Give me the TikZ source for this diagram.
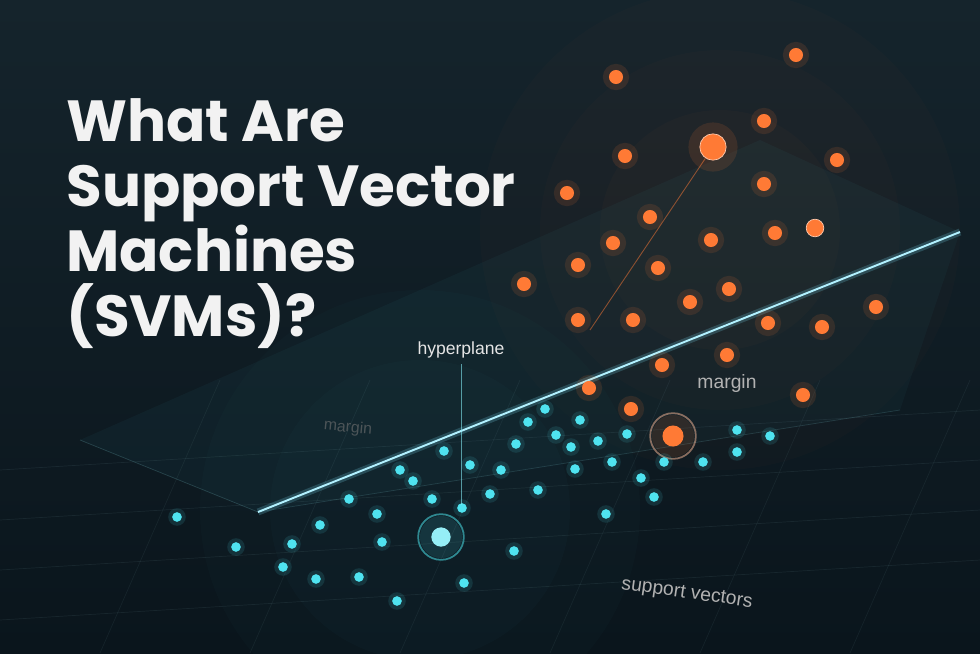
\documentclass[tikz,border=0pt]{standalone}
\usepackage{fontspec}
\setmainfont{Poppins}
\newfontfamily\lab{Liberation Sans}
\definecolor{bgA}{HTML}{0A151C}
\definecolor{bgB}{HTML}{15242C}
\definecolor{orng}{HTML}{FF7A35}
\definecolor{cyn}{HTML}{4FE3F0}
\definecolor{hyp}{HTML}{7FE8FF}
\tikzset{
 od/.style={circle,fill=orng,inner sep=0pt,minimum size=11pt},
 og/.style={circle,fill=orng,opacity=0.12,inner sep=0pt,minimum size=15pt},
 cd/.style={circle,fill=cyn,inner sep=0pt,minimum size=6pt},
 cg/.style={circle,fill=cyn,opacity=0.12,inner sep=0pt,minimum size=10pt},
 ring/.style={circle,draw=#1,line width=1pt,inner sep=0pt,minimum size=26pt},
 lbl/.style={text=#1,font=\lab\fontsize{11}{13}\selectfont}
}
\begin{document}
\begin{tikzpicture}[x=0.02cm,y=-0.02cm]
\useasboundingbox (0,0) rectangle (980,653);
\shade[top color=bgB,bottom color=bgA] (0,0) rectangle (980,653);
\foreach \r/\o in {240/0.02,180/0.02,120/0.025}{\fill[orng,opacity=\o] (720,230) circle (\r);}
\foreach \r/\o in {220/0.015,150/0.02}{\fill[cyn,opacity=\o] (420,510) circle (\r);}
% ground grid
\foreach \y in {470,520,570,620} \draw[cyn!40,opacity=0.07] (0,\y) -- (980,\y-60);
\foreach \x in {100,250,400,550,700,850} \draw[cyn!40,opacity=0.06] (\x,653) -- (\x+120,380);
% plane
\fill[cyn,opacity=0.04] (258,512) -- (960,232) -- (760,140) -- (80,440) -- cycle;
\draw[cyn!60,opacity=0.18] (80,440) -- (258,512);
\fill[cyn,opacity=0.03] (258,512) -- (900,410) -- (960,232) -- cycle;
\draw[cyn!60,opacity=0.15] (258,512) -- (900,410);
\coordinate (h1) at (258,512); \coordinate (h2) at (960,232);
\draw[hyp,line width=4pt,opacity=0.2] (h1) -- (h2);
\draw[hyp!60!white,line width=1.1pt] (h1) -- (h2);
% title
\node[anchor=north west,text=white!95!black,font=\bfseries\fontsize{33}{37}\selectfont,align=left,inner sep=0pt] (title) at (66,98) {What Are\\Support Vector\\Machines\\(SVMs)?};
% orange dots
\foreach \p/\n in {{(796,55)}/o1,{(616,77)}/o2,{(764,121)}/o3,{(625,156)}/o4,{(837,160)}/o5,{(567,193)}/o6,{(764,184)}/o7,{(650,217)}/o8,{(711,240)}/o9,{(775,233)}/o10,{(613,243)}/o11,{(578,265)}/o12,{(658,268)}/o13,{(524,284)}/o14,{(690,302)}/o15,{(729,289)}/o16,{(876,307)}/o17,{(578,320)}/o18,{(633,320)}/o19,{(768,323)}/o20,{(822,327)}/o21,{(727,355)}/o22,{(662,365)}/o23,{(589,388)}/o24,{(803,395)}/o25,{(631,409)}/o26}{
 \node[og] at \p {}; \node[od,minimum size=8pt] (\n) at \p {};}
\node[og,minimum size=28pt] at (713,147) {};
\node[od,minimum size=15pt,draw=orng!40!white] (sva) at (713,147) {};
\node[od,minimum size=10pt,draw=orng!40!white] (svb) at (815,228) {};
\node[og,minimum size=24pt] at (673,436) {};
\node[od,minimum size=12pt] (svc) at (673,436) {};
\node[ring=orng!50!white,opacity=0.5] at (673,436) {};
\coordinate (ol) at (590,330);
\draw[orng,opacity=0.5,line width=0.5pt] (sva) -- (ol);
% cyan dots
\foreach \p/\n in {{(514,551)}/c1,{(464,583)}/c2,{(397,601)}/c3,{(316,579)}/c4,{(359,577)}/c5,{(283,567)}/c6,{(236,547)}/c7,{(292,544)}/c8,{(382,542)}/c9,{(320,525)}/c10,{(349,499)}/c11,{(377,514)}/c12,{(413,481)}/c13,{(432,499)}/c14,{(462,508)}/c15,{(490,494)}/c16,{(501,470)}/c17,{(470,465)}/c18,{(444,451)}/c19,{(528,422)}/c20,{(545,409)}/c21,{(556,435)}/c22,{(580,420)}/c23,{(598,441)}/c24,{(538,490)}/c25,{(575,469)}/c26,{(612,462)}/c27,{(571,447)}/c28,{(516,444)}/c29,{(606,514)}/c30,{(641,478)}/c31,{(654,497)}/c32,{(627,434)}/c33,{(664,462)}/c34,{(703,462)}/c35,{(737,452)}/c36,{(737,430)}/c37,{(770,436)}/c38,{(177,517)}/c39,{(400,470)}/c40}{
 \node[cg] at \p {}; \node[cd,minimum size=5.5pt] (\n) at \p {};}
\node[cg,minimum size=24pt] at (441,537) {};
\node[cd,minimum size=11pt,fill=cyn!60!white] (svd) at (441,537) {};
\node[ring=cyn!60!black] at (441,537) {};
% labels
\node[lbl=white!90!black,font=\lab\fontsize{10}{12}\selectfont] (hl) at (461,350) {hyperplane};
\coordinate (hb) at (461,505);
\draw[cyn!70,opacity=0.6,line width=0.5pt] (hl.south) -- (hb);
\node[lbl=white!70!black] (m1) at (727,383) {margin};
\node[lbl=white!45!black,font=\lab\fontsize{9}{11}\selectfont,rotate=-5,opacity=0.6] (m2) at (348,428) {margin};
\node[lbl=white!70!black,rotate=-8] (sv) at (687,594) {support vectors};
\end{tikzpicture}
\end{document}
